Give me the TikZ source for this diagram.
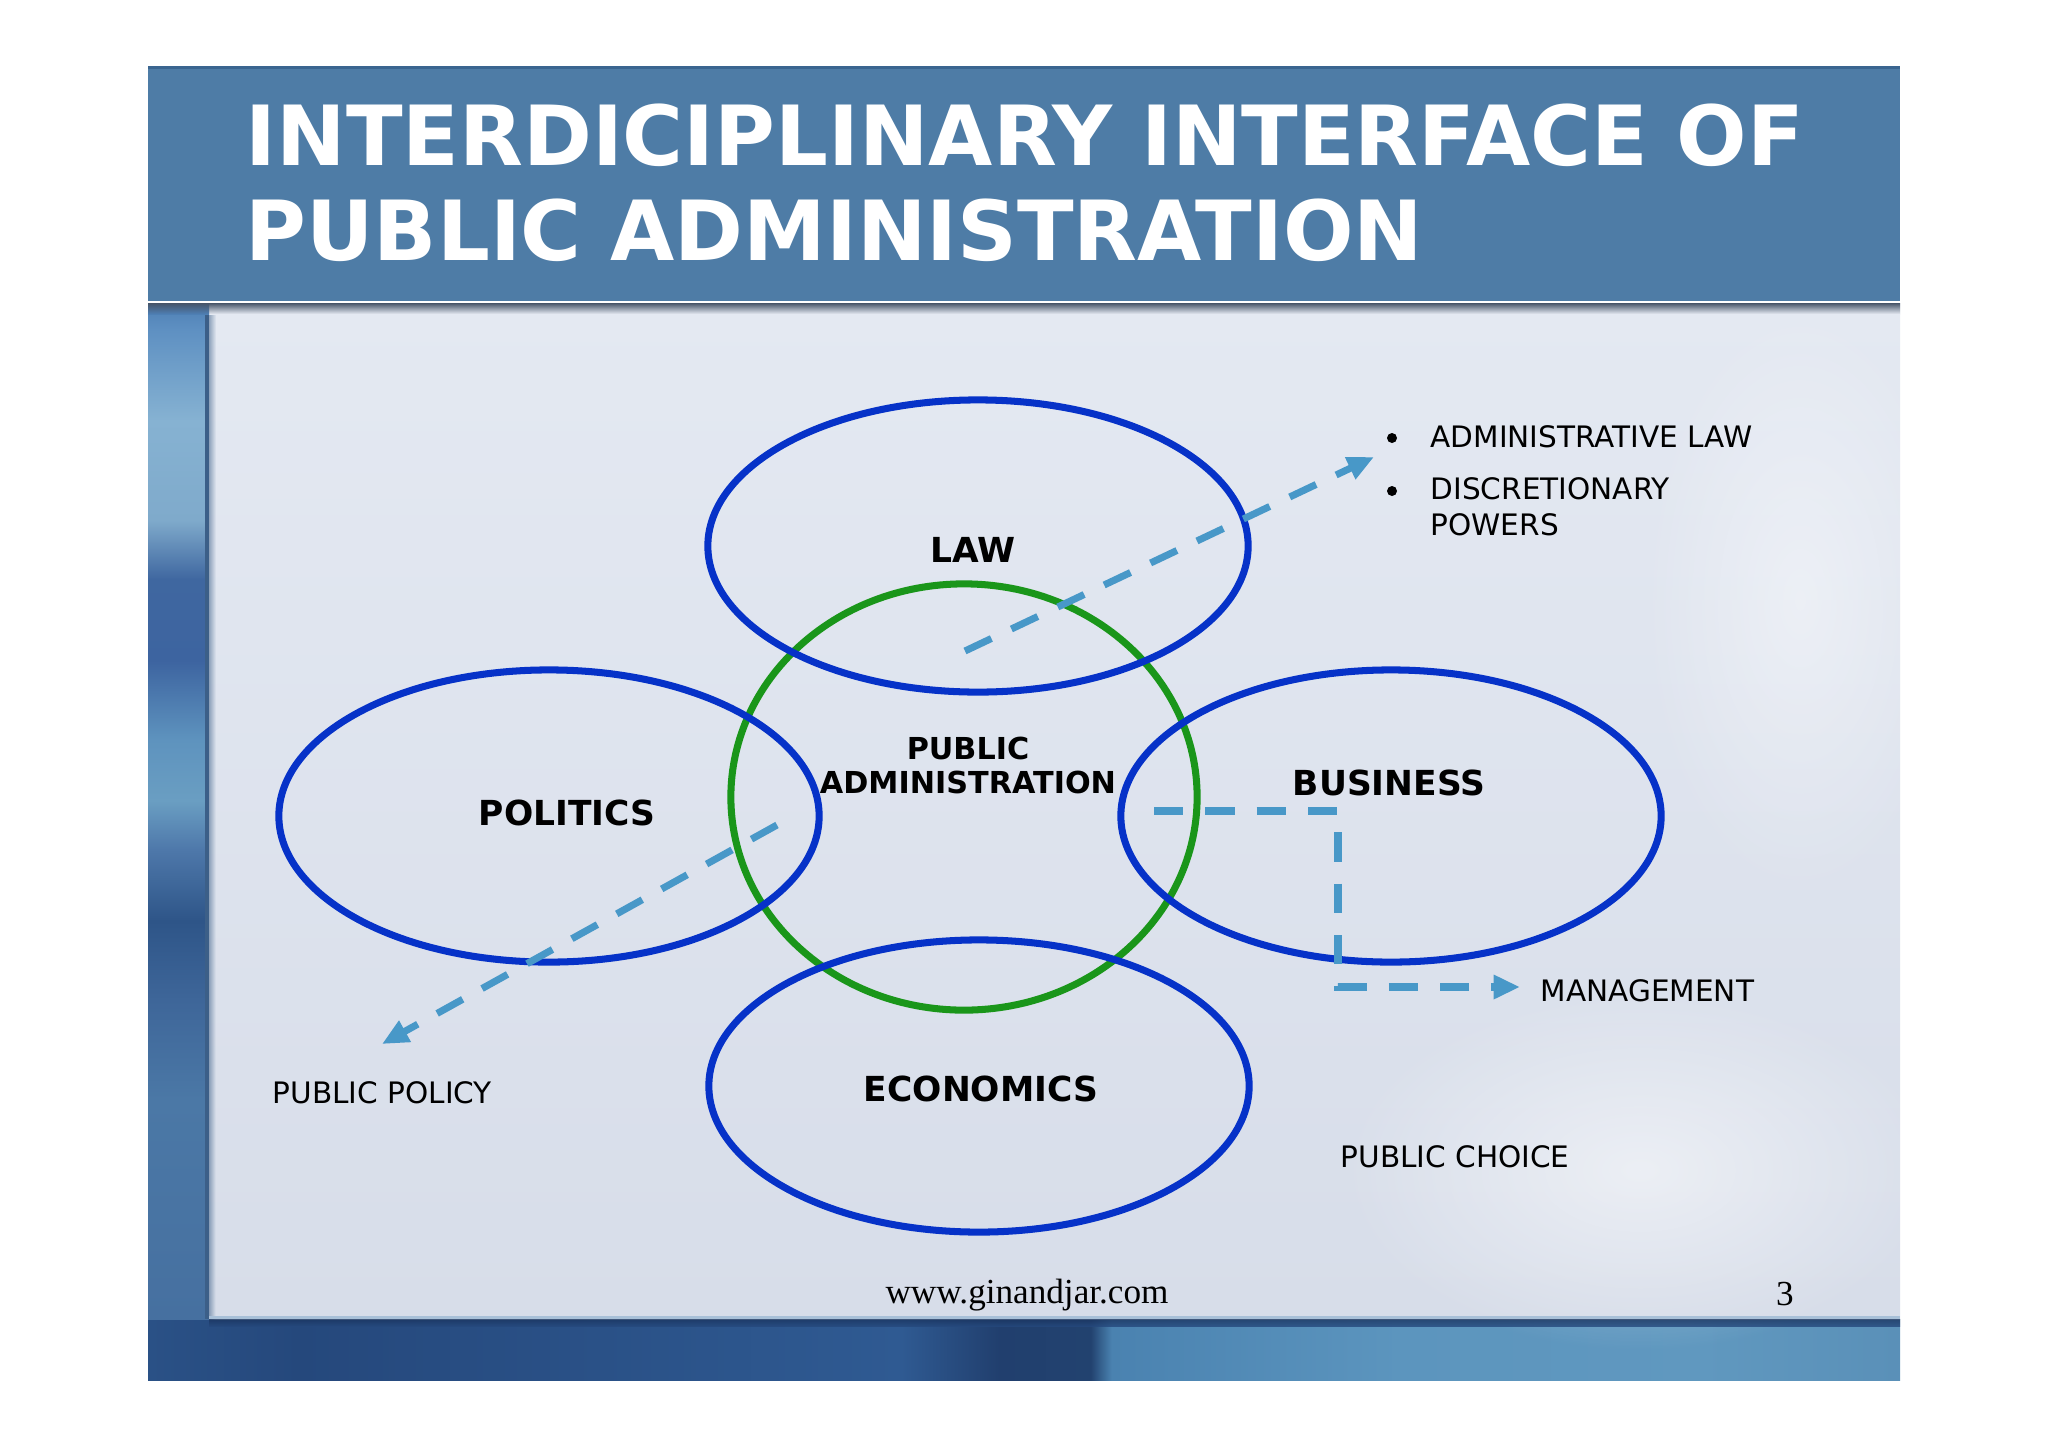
\documentclass[tikz,border=0pt]{standalone}
\usepackage{fontspec}
\setmainfont{DejaVu Sans}
\newfontfamily\footfont{Liberation Serif}
\usetikzlibrary{shapes.geometric,arrows.meta,fadings}

\tikzfading[name=softblob, inner color=transparent!0, outer color=transparent!100]

\definecolor{titlebar}{HTML}{4E7CA6}
\definecolor{titleedge}{HTML}{3A6590}
\definecolor{ellblue}{RGB}{6,50,200}
\definecolor{pagreen}{RGB}{26,150,26}
\definecolor{arrowblue}{RGB}{72,152,200}
\definecolor{paneltop}{HTML}{E4E9F2}
\definecolor{panelbot}{HTML}{D7DDE9}
\definecolor{shadowc}{HTML}{465468}
\definecolor{edgedark}{HTML}{3C5F88}
\definecolor{edgelight}{HTML}{A8C0D8}
\definecolor{bshadow}{HTML}{1A3560}

\definecolor{lsa}{HTML}{4670A0}
\definecolor{lsb}{HTML}{4B78A6}
\definecolor{lsc}{HTML}{3E6699}
\definecolor{lsd}{HTML}{2E5588}
\definecolor{lse}{HTML}{4E78AA}
\definecolor{lsf}{HTML}{6A9EC2}
\definecolor{lsg}{HTML}{5E93BE}
\definecolor{lsh}{HTML}{3D64A0}
\definecolor{lsi}{HTML}{3F67A0}
\definecolor{lsj}{HTML}{7FAACB}
\definecolor{lsk}{HTML}{86B2D2}
\definecolor{lsl}{HTML}{5E90C2}
\definecolor{lsm}{HTML}{4E7FB4}

\definecolor{bsa}{HTML}{2A5186}
\definecolor{bsb}{HTML}{25487C}
\definecolor{bsc}{HTML}{2F5A92}
\definecolor{bsd}{HTML}{213F6E}
\definecolor{bse}{HTML}{22426F}
\definecolor{bsf}{HTML}{4A82B0}
\definecolor{bsg}{HTML}{5C95BE}
\definecolor{bsh}{HTML}{6098BF}
\definecolor{bsi}{HTML}{5A90B8}

\pgfdeclareverticalshading{leftstrip}{100bp}{%
color(0bp)=(lsa); color(25bp)=(lsa); color(35.8bp)=(lsb); color(40.7bp)=(lsc);
color(44.6bp)=(lsd); color(48.1bp)=(lse); color(50.5bp)=(lsf); color(53.5bp)=(lsg);
color(57.4bp)=(lsh); color(61.4bp)=(lsi); color(64.3bp)=(lsj); color(69.2bp)=(lsk);
color(73.7bp)=(lsl); color(75bp)=(lsm); color(100bp)=(lsm)}

\pgfdeclarehorizontalshading{bottomstrip}{100bp}{%
color(0bp)=(bsa); color(25bp)=(bsa); color(29.3bp)=(bsb); color(46.5bp)=(bsc);
color(49.3bp)=(bsd); color(51.9bp)=(bse); color(52.5bp)=(bsf); color(60.7bp)=(bsg);
color(69.3bp)=(bsh); color(75bp)=(bsi); color(100bp)=(bsi)}

\tikzset{
  ell/.style={ellipse, draw=ellblue, line width=2pt, inner sep=0pt,
    minimum width=5.4cm, minimum height=2.92cm},
  pacirc/.style={ellipse, draw=pagreen, line width=2pt, inner sep=0pt,
    minimum width=4.66cm, minimum height=4.26cm},
  biglbl/.style={font=\fontsize{9.8}{11}\selectfont\bfseries, inner sep=0pt, anchor=base},
  palbl/.style={font=\fontsize{8.6}{9.67}\selectfont\bfseries, inner sep=0pt, align=center, anchor=base},
  lbl/.style={font=\fontsize{8.4}{9.96}\selectfont, inner sep=0pt, anchor=base west, align=left},
  bulletdot/.style={circle, fill=black, inner sep=0pt, minimum size=0.1cm},
  titletxt/.style={font=\fontsize{23.6}{26.74}\selectfont\bfseries, text=white,
    align=left, inner sep=0pt, anchor=base west},
  foottxt/.style={font=\footfont\fontsize{10}{12}\selectfont, inner sep=0pt, anchor=base},
  link/.style={draw=arrowblue, line width=2pt, dash pattern=on 8.3pt off 6.3pt,
    -{Triangle[length=7.5pt,width=6.5pt]}},
}

\begin{document}
\begin{tikzpicture}[x=0.01cm, y=-0.01cm]
\useasboundingbox (0,0) rectangle (2048,1448);
\fill[white] (0,0) rectangle (2048,1448);

% slide background
\shade[shading=bottomstrip] (148,1319) rectangle (1900,1380);
\shade[shading=leftstrip] (148,303) rectangle (209,1319);
\shade[top color=paneltop, bottom color=panelbot] (209,303) rectangle (1900,1319);
\fill[white, opacity=0.5, path fading=softblob] (1640,1170) ellipse [x radius=300, y radius=180];
\fill[white, opacity=0.4, path fading=softblob] (1800,600) ellipse [x radius=160, y radius=300];
% panel edges
\fill[edgedark] (205,303) rectangle (209,1319);
\shade[left color=edgedark, right color=paneltop, opacity=0.5] (209,303) rectangle (216,1319);
\fill[edgelight] (209,1316) rectangle (1900,1319);
\shade[top color=bshadow, bottom color=bsb, opacity=0.8] (209,1319) rectangle (1900,1326);
% title bar
\fill[titlebar] (148,66) rectangle (1900,301);
\fill[titleedge] (148,66) rectangle (1900,69);
\fill[white] (148,301) rectangle (1900,303);
\shade[top color=shadowc, bottom color=paneltop] (209,303) rectangle (1900,314);
\shade[top color=shadowc, bottom color=lsm] (148,303) rectangle (209,314);

\node[titletxt] (title) at (245,260) {INTERDICIPLINARY INTERFACE OF\\PUBLIC ADMINISTRATION};

% circles
\node[pacirc] (pa) at (964,797) {};
\node[ell] (law) at (978,546) {};
\node[ell] (politics) at (549,816) {};
\node[ell] (business) at (1391,816) {};
\node[ell] (economics) at (979,1086) {};

% labels
\node[biglbl] (lawt) at (973,562) {LAW};
\node[biglbl] (polt) at (567,825) {POLITICS};
\node[biglbl] (bust) at (1389,795) {BUSINESS};
\node[biglbl] (econt) at (981,1101) {ECONOMICS};
\node[palbl] (pat) at (968,793) {PUBLIC\\ADMINISTRATION};

\node[bulletdot] (b1) at (1392,438) {};
\node[bulletdot] (b2) at (1392,491) {};
\node[lbl] (adminlaw) at (1430,447) {ADMINISTRATIVE LAW};
\node[lbl] (discr) at (1430,535) {DISCRETIONARY\\POWERS};
\node[lbl] (mgmt) at (1540,1001) {MANAGEMENT};
\node[lbl] (pchoice) at (1340,1167) {PUBLIC CHOICE};
\node[lbl] (ppolicy) at (272,1103) {PUBLIC POLICY};

\node[foottxt] (web) at (1027,1303) {www.ginandjar.com};
\node[foottxt] (pnum) at (1785,1305) {3};

% connectors
\coordinate (lawS) at (965,651);
\coordinate (lawE) at (1374,457);
\coordinate (polS) at (777,825);
\coordinate (polE) at (382,1044);
\coordinate (busS) at (1154,811);
\coordinate (busC1) at (1338,811);
\coordinate (busC2) at (1338,987);
\coordinate (busE) at (1520,987);

\draw[link] (lawS) -- (lawE);
\draw[link] (polS) -- (polE);
\draw[link] (busS) -- (busC1) -- (busC2) -- (busE);
\end{tikzpicture}
\end{document}
